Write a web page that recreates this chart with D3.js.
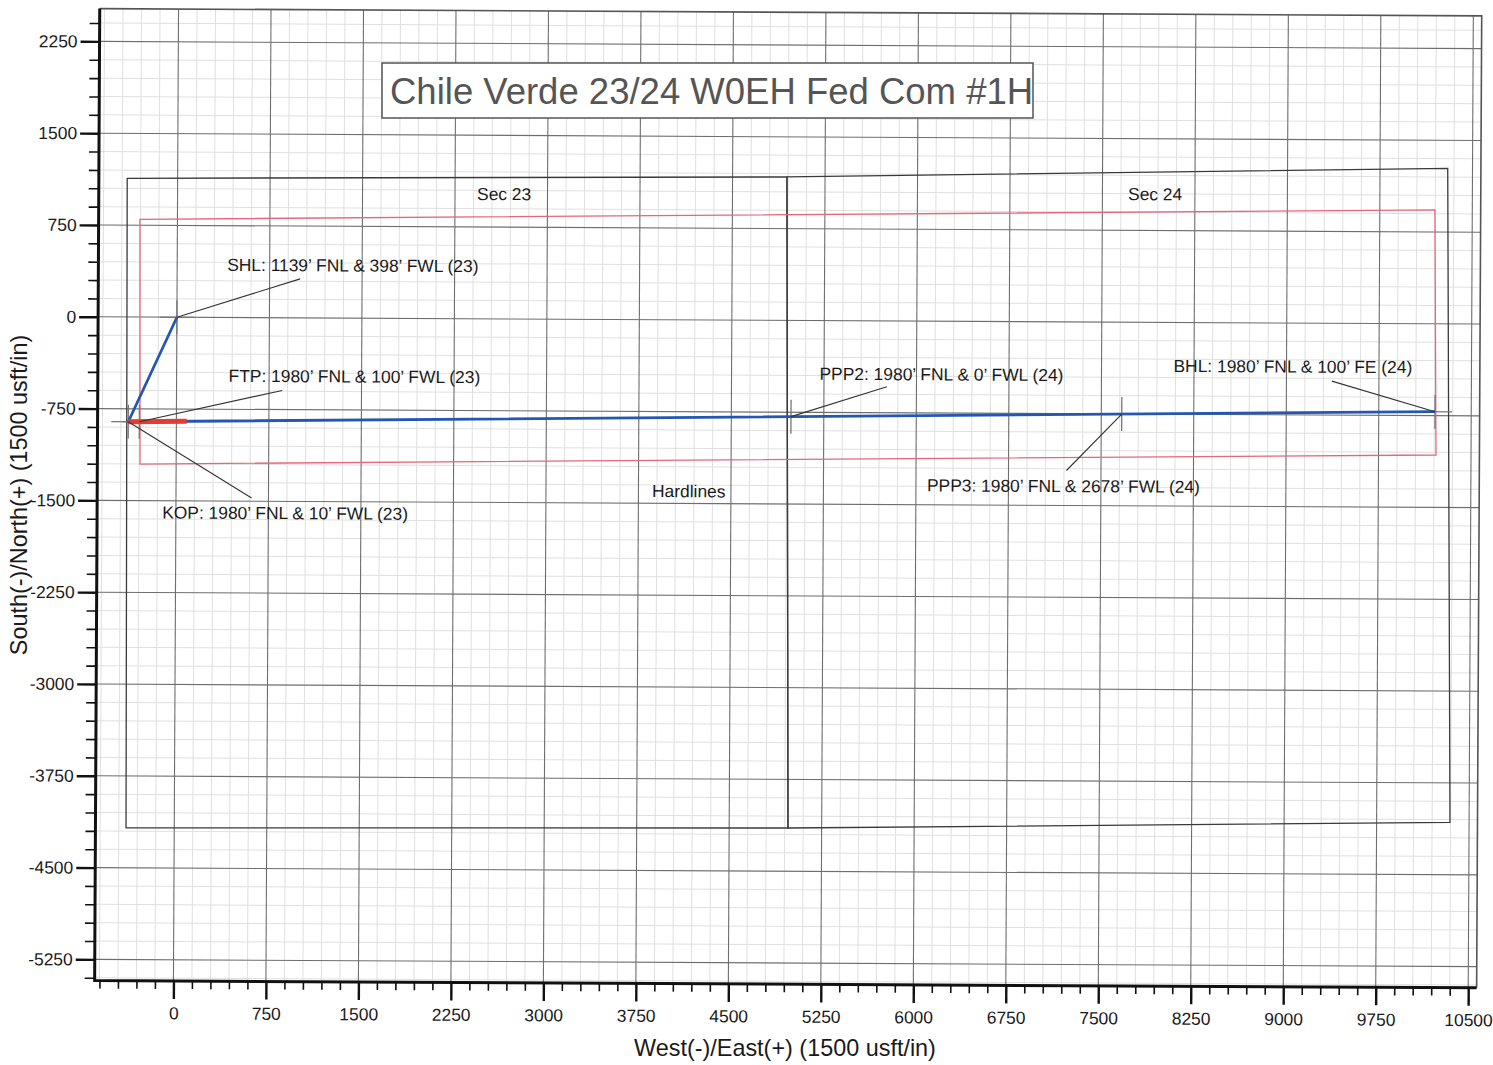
<!DOCTYPE html>
<html><head><meta charset="utf-8">
<script src="https://cdn.jsdelivr.net/npm/d3@7"></script>
<style>
html,body{margin:0;padding:0;background:#fff;}
svg{display:block;}
text{font-family:"Liberation Sans",Arial,Helvetica,sans-serif;}
</style></head><body>
<svg id="chart" width="1493" height="1065"></svg>
<script>
// ---------- data ----------
const xMajorTicks = [0,750,1500,2250,3000,3750,4500,5250,6000,6750,7500,8250,9000,9750,10500];
const yMajorTicks = [2250,1500,750,0,-750,-1500,-2250,-3000,-3750,-4500,-5250];
const gridMinorStep = 150;
const chartTitle = "Chile Verde 23/24 W0EH Fed Com #1H";
const xAxisTitle = "West(-)/East(+) (1500 usft/in)";
const yAxisTitle = "South(-)/North(+) (1500 usft/in)";
const section23 = [[-409,1133],[4941,1172],[4977,-4147],[-391,-4173]];
const section24 = [[4941,1172],[10299,1271],[10345,-4072],[4977,-4147]];
const sectionNames = ["Sec 23","Sec 24"];
const hardlines = [[-304,798],[10197,930],[10216,-1072],[-293,-1201]];
const hardlinesName = "Hardlines";
const wellPath = [[0,0],[-390,-856],[10206,-718]];
const buildSegment = [[-390,-856],[84,-850]];
const pointNames = ["SHL","FTP","KOP","PPP2","PPP3","BHL"];
const pointEast = [0,-300,-390,4984,7666,10206];
const pointNorth = [0,-855,-856,-786,-751,-718];
const pointLabels = [
  "SHL: 1139\u2019 FNL & 398\u2019 FWL (23)",
  "FTP: 1980\u2019 FNL & 100\u2019 FWL (23)",
  "KOP: 1980\u2019 FNL & 10\u2019 FWL (23)",
  "PPP2: 1980\u2019 FNL & 0\u2019 FWL (24)",
  "PPP3: 1980\u2019 FNL & 2678\u2019 FWL (24)",
  "BHL: 1980\u2019 FNL & 100\u2019 FE (24)"
];

// ---------- layout ----------
const labelLayout = {
  SHL: {tx:50, ty:-46.6, lx:123, ly:-39},
  FTP: {tx:89, ty:-40.3, lx:142.7, ly:-32},
  KOP: {tx:34.4, ty:96.6, lx:123.7, ly:75.6},
  PPP2:{tx:28.3, ty:-37, lx:95.7, ly:-30.3},
  PPP3:{tx:-194.4, ty:78.3, lx:-55, ly:56.7},
  BHL: {tx:-261.7, ty:-38.4, lx:-103.3, ly:-30}
};
const sectionLabelAnchors = [[2429,971],[7708,998]];
const hardlinesAnchor = [3860,-1449];
const X0=97, X1=1479, Y0=12, Y1=984;

const svg = d3.select("#chart");
svg.append("rect").attr("width",1493).attr("height",1065).attr("fill","#fff");

const xBase = d3.scaleLinear().domain([0,10500]).range([175.8,1470.6]);
const x = d3.scaleLinear().domain([xBase.invert(X0), xBase.invert(X1)]).range([X0,X1]);
const yBase = d3.scaleLinear().domain([0,2250]).range([320.2, 320.2-2250*0.1224]);
const y = d3.scaleLinear().domain([yBase.invert(Y1), yBase.invert(Y0)]).range([Y1,Y0]);

const g = svg.append("g").attr("transform","rotate(0.3 746 532)");

const [xmin,xmax] = x.domain(), [ymin,ymax] = y.domain();
const xMinor = d3.range(Math.ceil(xmin/gridMinorStep)*gridMinorStep, xmax, gridMinorStep).filter(v=>!xMajorTicks.includes(v));
const yMinor = d3.range(Math.ceil(ymin/gridMinorStep)*gridMinorStep, ymax, gridMinorStep).filter(v=>!yMajorTicks.includes(v));

// minor grid
g.append("g").selectAll("line").data(xMinor).join("line")
  .attr("x1",d=>x(d)).attr("x2",d=>x(d)).attr("y1",Y0).attr("y2",Y1)
  .attr("stroke","#e0e0e0").attr("stroke-width",1);
g.append("g").selectAll("line").data(yMinor).join("line")
  .attr("y1",d=>y(d)).attr("y2",d=>y(d)).attr("x1",X0).attr("x2",X1)
  .attr("stroke","#e0e0e0").attr("stroke-width",1);
// major grid
g.append("g").selectAll("line").data(xMajorTicks).join("line")
  .attr("x1",d=>x(d)).attr("x2",d=>x(d)).attr("y1",Y0).attr("y2",Y1)
  .attr("stroke","#6e6e6e").attr("stroke-width",1.1);
g.append("g").selectAll("line").data(yMajorTicks).join("line")
  .attr("y1",d=>y(d)).attr("y2",d=>y(d)).attr("x1",X0).attr("x2",X1)
  .attr("stroke","#6e6e6e").attr("stroke-width",1.1);
// frame top/right
g.append("path").attr("d",`M${X0},${Y0}H${X1}V${Y1}`).attr("fill","none")
  .attr("stroke","#555").attr("stroke-width",1.6);

const line = d3.line().x(d=>x(d[0])).y(d=>y(d[1]));
// sections
[section23, section24].forEach(s=>{
  g.append("path").attr("d", line(s)+"Z").attr("fill","none")
   .attr("stroke","#3a3a3a").attr("stroke-width",1.3);
});
// hardlines
g.append("path").attr("d", line(hardlines)+"Z").attr("fill","none")
  .attr("stroke","#e5677a").attr("stroke-width",1.3);

// markers
const pts = pointNames.map((n,i)=>({name:n, e:pointEast[i], n2:pointNorth[i], label:pointLabels[i]}));
const mk = g.append("g");
pts.forEach(p=>{
  const px=x(p.e), py=y(p.n2);
  mk.append("line").attr("x1",px-17).attr("x2",px+17).attr("y1",py).attr("y2",py)
    .attr("stroke","#777").attr("stroke-width",1.3);
  mk.append("line").attr("x1",px).attr("x2",px).attr("y1",py-17).attr("y2",py+17)
    .attr("stroke","#777").attr("stroke-width",1.3);
});

// well path
g.append("path").attr("d", line(wellPath)).attr("fill","none")
  .attr("stroke","#2457b3").attr("stroke-width",2.8).attr("stroke-linejoin","round");
g.append("path").attr("d", line(buildSegment)).attr("fill","none")
  .attr("stroke","#e23d30").attr("stroke-width",5);

// leaders + labels
pts.forEach(p=>{
  const L = labelLayout[p.name], px=x(p.e), py=y(p.n2);
  g.append("line").attr("x1",px).attr("y1",py).attr("x2",px+L.lx).attr("y2",py+L.ly)
    .attr("stroke","#333").attr("stroke-width",1.1);
  g.append("text").attr("x",px+L.tx).attr("y",py+L.ty).attr("font-size","17.4px")
    .attr("fill","#1a1a1a").text(p.label);
});
sectionNames.forEach((s,i)=>{
  g.append("text").attr("x",x(sectionLabelAnchors[i][0])).attr("y",y(sectionLabelAnchors[i][1]))
    .attr("font-size","17.4px").attr("fill","#1a1a1a").text(s);
});
g.append("text").attr("x",x(hardlinesAnchor[0])).attr("y",y(hardlinesAnchor[1]))
  .attr("font-size","17.4px").attr("fill","#1a1a1a").text(hardlinesName);

// axes
const fmt = d => String(d);
function styleAxis(sel, w){
  sel.select(".domain").remove();
  sel.selectAll(".tick line").attr("stroke","#111").attr("stroke-width",w);
  sel.selectAll(".tick text").attr("font-size","17.4px").attr("fill","#1a1a1a")
    .attr("font-family",'"Liberation Sans",Arial,sans-serif');
}
g.append("g").attr("transform",`translate(0,${Y1})`)
  .call(d3.axisBottom(x).tickValues(xMinor).tickSize(8).tickFormat(""))
  .call(s=>styleAxis(s,1.6));
g.append("g").attr("transform",`translate(0,${Y1})`)
  .call(d3.axisBottom(x).tickValues(xMajorTicks).tickSize(18).tickPadding(8).tickFormat(fmt))
  .call(s=>styleAxis(s,2.4));
g.append("g").attr("transform",`translate(${X0},0)`)
  .call(d3.axisLeft(y).tickValues(yMinor).tickSize(10).tickFormat(""))
  .call(s=>styleAxis(s,1.6));
g.append("g").attr("transform",`translate(${X0},0)`)
  .call(d3.axisLeft(y).tickValues(yMajorTicks).tickSize(19).tickPadding(3).tickFormat(fmt))
  .call(s=>styleAxis(s,2.4));
g.append("path").attr("d",`M${X0},${Y0}V${Y1}H${X1}`).attr("fill","none")
  .attr("stroke","#111").attr("stroke-width",3);

// title box
svg.append("rect").attr("x",382).attr("y",63).attr("width",651).attr("height",55)
  .attr("fill","#fff").attr("stroke","#555").attr("stroke-width",1.5);
svg.append("text").attr("x",390).attr("y",104).attr("font-size","36.5px").attr("fill","#555")
  .text(chartTitle);

// axis titles
svg.append("text").attr("x",785).attr("y",1056).attr("text-anchor","middle")
  .attr("font-size","23.4px").attr("fill","#1a1a1a").text(xAxisTitle);
svg.append("text").attr("transform","translate(27,495) rotate(-90)").attr("text-anchor","middle")
  .attr("font-size","23.4px").attr("fill","#1a1a1a").text(yAxisTitle);
</script>
</body></html>
